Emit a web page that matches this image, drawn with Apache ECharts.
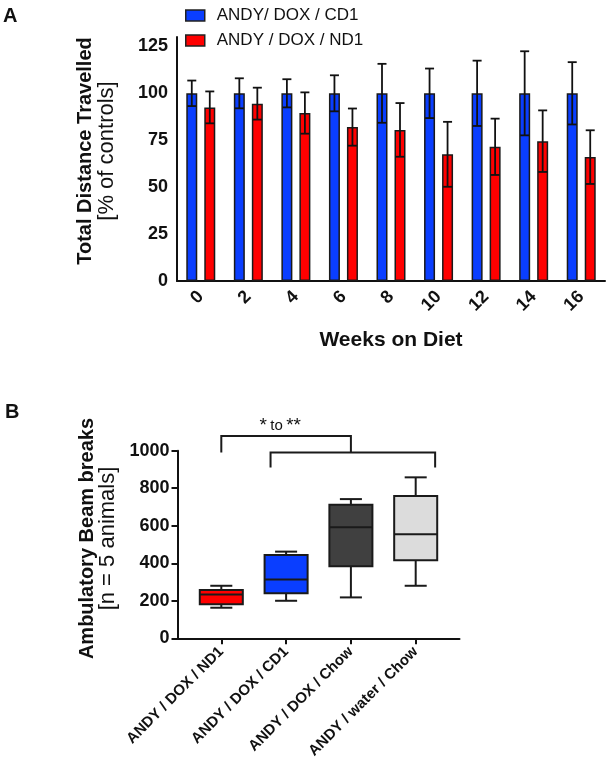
<!DOCTYPE html>
<html><head><meta charset="utf-8">
<script src="https://cdn.jsdelivr.net/npm/echarts@6/dist/echarts.min.js"></script>
<style>html,body{margin:0;padding:0;background:#fff}#c{width:609px;height:768px}</style>
</head><body><div id="c"></div>
<script>
// ---------- Panel A data ----------
const weeks = ['0', '2', '4', '6', '8', '10', '12', '14', '16'];
const seriesNames = ['ANDY/ DOX / CD1', 'ANDY / DOX / ND1'];
const cd1Mean = [100, 100, 100, 100, 100, 100, 100, 100, 100];
const cd1Err  = [6.8, 8, 7.5, 9.6, 15.7, 13.2, 17.4, 22.4, 16.6];
const nd1Mean = [92.5, 94.5, 89.5, 82, 80.5, 67.5, 71.5, 74.5, 66];
const nd1Err  = [8.5, 8.5, 11, 9.9, 14.3, 17.3, 15, 16.4, 14.3];
const yTicksA = [0, 25, 50, 75, 100, 125];

// ---------- Panel B data ----------
const boxCats = ['ANDY / DOX / ND1', 'ANDY / DOX / CD1', 'ANDY / DOX / Chow', 'ANDY / water / Chow'];
const boxMin = [163, 200, 218, 280];
const boxQ1  = [181, 240, 384, 416];
const boxMed = [234, 314, 592, 554];
const boxQ3  = [257, 444, 712, 758];
const boxMax = [280, 462, 742, 858];
const yTicksB = [0, 200, 400, 600, 800, 1000];
// significance brackets: [xStart, xEnd, yTop, yLegEnd] in data units
const bracketX1 = [0, 0.76];
const bracketX2 = [2, 3.3];
const bracketTop = [1078, 991];
const bracketLeg = [991, 911];
const sigText = ['*', 'to', '**'];
const sigPos = [0.91, 1132];

// ---------- styles ----------
const FONT = 'Liberation Sans, Arial, Helvetica, sans-serif';
const INK = '#111';
const BLUE = '#0a3eff';
const RED = '#ff0000';
const boxColors = [RED, BLUE, '#404040', '#dcdcdc'];
const BAR_W = 11, BAR_GAP = 7;

const chart = echarts.init(document.getElementById('c'), null, {renderer: 'canvas'});

function errRender(dx) {
  return function (params, api) {
    const i = api.value(0), m = api.value(1), e = api.value(2);
    const t = api.coord([i, m + e]), b = api.coord([i, m - e]);
    const x = t[0] + dx, cw = 4.5;
    const st = {stroke: INK, lineWidth: 1.8};
    return {type: 'group', children: [
      {type: 'line', shape: {x1: x, y1: t[1], x2: x, y2: b[1]}, style: st},
      {type: 'line', shape: {x1: x - cw, y1: t[1], x2: x + cw, y2: t[1]}, style: st},
      {type: 'line', shape: {x1: x - cw, y1: b[1], x2: x + cw, y2: b[1]}, style: st}
    ]};
  };
}

function boxRender(params, api) {
  const x = api.value(0);
  const v = [1, 2, 3, 4, 5].map(k => api.value(k));
  const band = api.size([1, 0])[0];
  const hw = band * 0.332, cw = band * 0.17;
  const p = v.map(val => api.coord([x, val]));
  const cx = p[0][0];
  const st = {stroke: '#1a1a1a', lineWidth: 2};
  return {type: 'group', children: [
    {type: 'line', shape: {x1: cx, y1: p[4][1], x2: cx, y2: p[3][1]}, style: st},
    {type: 'line', shape: {x1: cx, y1: p[1][1], x2: cx, y2: p[0][1]}, style: st},
    {type: 'line', shape: {x1: cx - cw, y1: p[4][1], x2: cx + cw, y2: p[4][1]}, style: st},
    {type: 'line', shape: {x1: cx - cw, y1: p[0][1], x2: cx + cw, y2: p[0][1]}, style: st},
    {type: 'rect', shape: {x: cx - hw, y: p[3][1], width: 2 * hw, height: p[1][1] - p[3][1]},
      style: {fill: boxColors[params.dataIndex], stroke: '#1a1a1a', lineWidth: 2}},
    {type: 'line', shape: {x1: cx - hw, y1: p[2][1], x2: cx + hw, y2: p[2][1]}, style: st}
  ]};
}

function bracketRender(params, api) {
  const a = api.coord([api.value(0), api.value(3)]);
  const b = api.coord([api.value(0), api.value(2)]);
  const c = api.coord([api.value(1), api.value(2)]);
  const d = api.coord([api.value(1), api.value(3)]);
  return {type: 'polyline', shape: {points: [a, b, c, d]}, style: {stroke: '#1a1a1a', lineWidth: 2, fill: null}};
}

function sigRender(params, api) {
  const p = api.coord([api.value(0), api.value(1)]);
  return {type: 'text', x: p[0], y: p[1], style: {
    text: '{s|' + sigText[0] + '} {t|' + sigText[1] + '} {s|' + sigText[2] + '}',
    align: 'center', verticalAlign: 'middle', fill: INK,
    rich: {s: {fontSize: 19, fontFamily: FONT, fill: INK}, t: {fontSize: 15, fontFamily: FONT, fill: INK}}
  }};
}

const axisLineSt = {show: true, onZero: false, lineStyle: {color: INK, width: 2}};
const tickSt = {lineStyle: {color: INK, width: 2}};

const option = {
  animation: false,
  backgroundColor: '#fff',
  textStyle: {fontFamily: FONT},
  title: [
    {text: 'A', left: 3, top: 6, padding: 0, textStyle: {fontSize: 20, fontWeight: 'bold', color: INK, fontFamily: FONT}},
    {text: 'B', left: 5, top: 402, padding: 0, textStyle: {fontSize: 20, fontWeight: 'bold', color: INK, fontFamily: FONT}}
  ],
  legend: {
    orient: 'vertical', left: 185, top: 7, padding: 0, itemWidth: 19, itemHeight: 11, itemGap: 8, icon: 'rect',
    data: seriesNames,
    itemStyle: {borderColor: '#222', borderWidth: 1.5},
    textStyle: {fontSize: 17, color: INK, fontFamily: FONT, padding: [0, 0, 0, 7]}
  },
  grid: [
    {left: 177, top: 37, width: 428, height: 244},
    {left: 177.5, top: 450.7, width: 282, height: 187.6}
  ],
  xAxis: [
    {type: 'category', gridIndex: 0, data: weeks,
      axisLine: axisLineSt,
      axisTick: Object.assign({alignWithLabel: true, length: 6}, tickSt),
      axisLabel: {rotate: 45, interval: 0, fontSize: 18, fontWeight: 'bold', color: INK, fontFamily: FONT, margin: 13},
      name: 'Weeks on Diet', nameLocation: 'middle', nameGap: 49,
      nameTextStyle: {fontSize: 21, fontWeight: 'bold', color: INK, fontFamily: FONT}},
    {type: 'value', gridIndex: 1, min: -0.676, max: 3.676, splitLine: {show: false},
      axisLine: axisLineSt,
      axisTick: Object.assign({length: 6, customValues: [0, 1, 2, 3]}, tickSt),
      axisLabel: {customValues: [0, 1, 2, 3], formatter: v => boxCats[Math.round(v)],
        rotate: 45, fontSize: 15, fontWeight: 'bold', color: INK, fontFamily: FONT, margin: 11}}
  ],
  yAxis: [
    {type: 'value', gridIndex: 0, min: 0, max: 130, splitLine: {show: false},
      axisLine: axisLineSt,
      axisTick: Object.assign({length: 6, customValues: yTicksA}, tickSt),
      axisLabel: {customValues: yTicksA, fontSize: 18, fontWeight: 'bold', color: INK, fontFamily: FONT, margin: 9},
      name: '{b|Total Distance Travelled}\n{r|[% of controls]}', nameLocation: 'middle', nameRotate: 90, nameGap: 60,
      nameTextStyle: {padding: [0, 0, 0, 16], rich: {
        b: {fontSize: 20, fontWeight: 'bold', lineHeight: 21, color: INK, fontFamily: FONT},
        r: {fontSize: 22, lineHeight: 21, color: INK, fontFamily: FONT}}}},
    {type: 'value', gridIndex: 1, min: 0, max: 1000, splitLine: {show: false},
      axisLine: axisLineSt,
      axisTick: Object.assign({length: 6, customValues: yTicksB}, tickSt),
      axisLabel: {customValues: yTicksB, formatter: v => String(v), fontSize: 18, fontWeight: 'bold', color: INK, fontFamily: FONT, margin: 8},
      name: '{b|Ambulatory Beam breaks}\n{r|[n = 5 animals]}', nameLocation: 'middle', nameRotate: 90, nameGap: 59,
      nameTextStyle: {padding: [0, 0, 0, 12], rich: {
        b: {fontSize: 20, fontWeight: 'bold', lineHeight: 21, color: INK, fontFamily: FONT},
        r: {fontSize: 22, lineHeight: 21, color: INK, fontFamily: FONT}}}}
  ],
  series: [
    {type: 'bar', name: seriesNames[0], xAxisIndex: 0, yAxisIndex: 0, data: cd1Mean,
      barWidth: BAR_W, barGap: (BAR_GAP / BAR_W * 100) + '%',
      itemStyle: {color: BLUE, borderColor: '#1a1a1a', borderWidth: 1.5}},
    {type: 'bar', name: seriesNames[1], xAxisIndex: 0, yAxisIndex: 0, data: nd1Mean,
      barWidth: BAR_W,
      itemStyle: {color: RED, borderColor: '#1a1a1a', borderWidth: 1.5}},
    {type: 'custom', xAxisIndex: 0, yAxisIndex: 0, z: 10, renderItem: errRender(-(BAR_W + BAR_GAP) / 2),
      encode: {x: 0, y: 1}, data: cd1Mean.map((m, i) => [i, m, cd1Err[i]])},
    {type: 'custom', xAxisIndex: 0, yAxisIndex: 0, z: 10, renderItem: errRender((BAR_W + BAR_GAP) / 2),
      encode: {x: 0, y: 1}, data: nd1Mean.map((m, i) => [i, m, nd1Err[i]])},
    {type: 'custom', xAxisIndex: 1, yAxisIndex: 1, renderItem: boxRender, clip: false,
      encode: {x: 0, y: [1, 2, 3, 4, 5]},
      data: boxCats.map((c, i) => [i, boxMin[i], boxQ1[i], boxMed[i], boxQ3[i], boxMax[i]])},
    {type: 'custom', xAxisIndex: 1, yAxisIndex: 1, renderItem: bracketRender, clip: false,
      encode: {x: [0, 1], y: [2, 3]},
      data: bracketX1.map((x, i) => [x, bracketX2[i], bracketTop[i], bracketLeg[i]])},
    {type: 'custom', xAxisIndex: 1, yAxisIndex: 1, renderItem: sigRender, clip: false,
      encode: {x: 0, y: 1}, data: [sigPos]}
  ]
};
chart.setOption(option);
</script>
</body></html>
